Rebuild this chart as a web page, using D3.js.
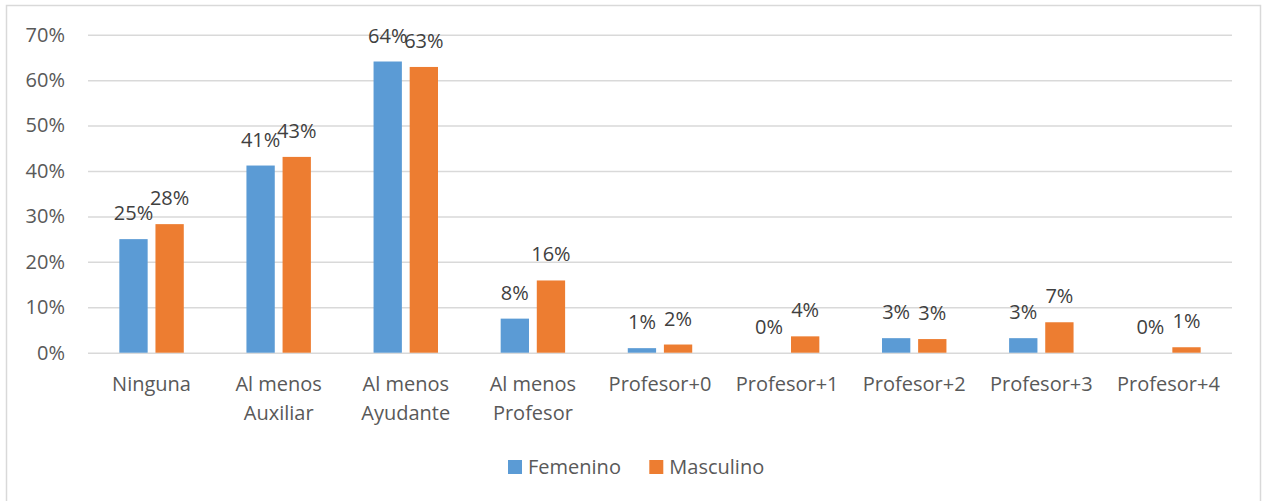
<!DOCTYPE html>
<html>
<head>
<meta charset="utf-8">
<script src="https://cdn.jsdelivr.net/npm/d3@7"></script>
<style>
  body { margin: 0; background: #fff; }
  svg { display: block; font-family: "Open Sans", sans-serif; }
</style>
</head>
<body>
<svg id="chart" width="1262" height="501"></svg>
<script>
// data
var categories = ["Ninguna", "Al menos\nAuxiliar", "Al menos\nAyudante", "Al menos\nProfesor",
  "Profesor+0", "Profesor+1", "Profesor+2", "Profesor+3", "Profesor+4"];
var series = ["Femenino", "Masculino"];
var femenino = [0.250, 0.412, 0.641, 0.075, 0.010, 0.000, 0.032, 0.032, 0.000];
var masculino = [0.283, 0.431, 0.629, 0.159, 0.018, 0.036, 0.030, 0.067, 0.012];
var yTicks = [0, 0.1, 0.2, 0.3, 0.4, 0.5, 0.6, 0.7];
var colors = ["#5b9bd5", "#ed7d31"];

var svg = d3.select("#chart");
var plotLeft = 88, plotRight = 1232, plotTop = 34.7, plotBottom = 352.7;

// chart border
svg.append("rect")
  .attr("x", 6.5).attr("y", 5.5)
  .attr("width", 1254).attr("height", 520)
  .attr("fill", "none")
  .attr("stroke", "#d9d9d9")
  .attr("stroke-width", 1.5);

var x = d3.scaleBand()
  .domain(categories)
  .range([plotLeft, plotRight])
  .paddingInner(0.493)
  .paddingOuter(0.2465);

var xs = d3.scaleBand()
  .domain(series)
  .range([0, x.bandwidth()])
  .paddingInner(0.216);

var y = d3.scaleLinear().domain([0, 0.7]).range([plotBottom, plotTop]);

var color = d3.scaleOrdinal().domain(series).range(colors);

// y axis with gridlines
var yAxis = svg.append("g")
  .attr("transform", "translate(" + plotLeft + ",0)")
  .call(d3.axisLeft(y)
    .tickValues(yTicks)
    .tickFormat(d3.format(".0%"))
    .tickSize(-(plotRight - plotLeft))
    .tickPadding(23));
yAxis.select(".domain").remove();
yAxis.selectAll("line").attr("stroke", "#d9d9d9").attr("stroke-width", 1.5);
yAxis.selectAll("text")
  .attr("fill", "#595959")
  .style("font-size", "20px")
  .style("font-family", "'Open Sans', sans-serif");

// bars
var rows = categories.map(function(c, i) {
  return { cat: c, values: [femenino[i], masculino[i]] };
});

var groups = svg.selectAll(".group")
  .data(rows)
  .enter().append("g")
  .attr("class", "group")
  .attr("transform", function(d) { return "translate(" + x(d.cat) + ",0)"; });

var cells = groups.selectAll(".cell")
  .data(function(d) { return d.values.map(function(v, j) { return { s: series[j], v: v }; }); })
  .enter();

cells.append("rect")
  .attr("x", function(d) { return xs(d.s); })
  .attr("y", function(d) { return y(d.v); })
  .attr("width", xs.bandwidth())
  .attr("height", function(d) { return plotBottom - y(d.v); })
  .attr("fill", function(d) { return color(d.s); });

cells.append("text")
  .attr("x", function(d) { return xs(d.s) + xs.bandwidth() / 2; })
  .attr("y", function(d) { return y(d.v) - 19; })
  .attr("text-anchor", "middle")
  .attr("fill", "#404040")
  .style("font-size", "20px")
  .text(function(d) { return d3.format(".0%")(d.v); });

// category labels
var catLabels = svg.selectAll(".cat")
  .data(categories)
  .enter().append("text")
  .attr("class", "cat")
  .attr("x", function(d) { return x(d) + x.bandwidth() / 2; })
  .attr("y", 391)
  .attr("text-anchor", "middle")
  .attr("fill", "#595959")
  .style("font-size", "20px");

catLabels.selectAll("tspan")
  .data(function(d) { return d.split("\n"); })
  .enter().append("tspan")
  .attr("x", function() { var p = d3.select(this.parentNode).datum(); return x(p) + x.bandwidth() / 2; })
  .attr("dy", function(d, i) { return i ? 29 : 0; })
  .text(function(d) { return d; });

// legend
var legendX = [508, 649.3];
var legend = svg.selectAll(".legend")
  .data(series)
  .enter().append("g")
  .attr("class", "legend")
  .attr("transform", function(d, i) { return "translate(" + legendX[i] + ",460)"; });

legend.append("rect")
  .attr("width", 14).attr("height", 14)
  .attr("fill", function(d) { return color(d); });

legend.append("text")
  .attr("x", 20)
  .attr("y", 14)
  .attr("fill", "#595959")
  .style("font-size", "20px")
  .text(function(d) { return d; });
</script>
</body>
</html>
